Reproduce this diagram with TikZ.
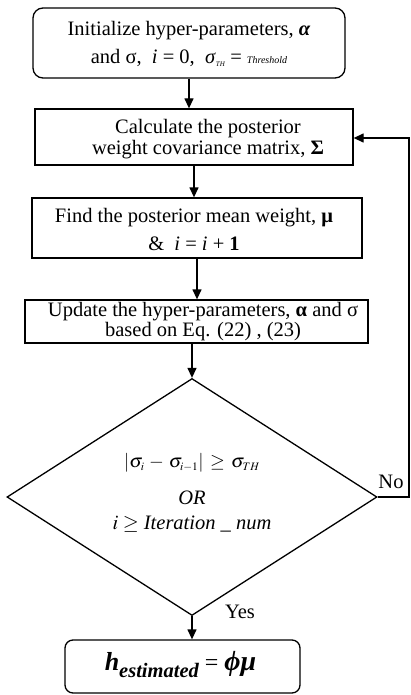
\documentclass[tikz,border=0pt]{standalone}
\usepackage{mathptmx}
\usepackage{fontspec}
\setmainfont{Liberation Serif}
\usetikzlibrary{shapes.geometric,arrows.meta}
\begin{document}
\begin{tikzpicture}[x=1pt,y=-1pt,
  boxst/.style={draw,line width=1.3pt,inner sep=0pt},
  rbox/.style={boxst,rounded corners=10pt},
  arr/.style={line width=1.3pt,-{Triangle[length=10pt,width=9pt]}},
  txt/.style={align=center,inner sep=0pt,font=\fontsize{20.5}{21}\selectfont},
  wide/.style={align=center,inner sep=0pt,font=\fontsize{20.5}{28}\selectfont}]
\useasboundingbox (0,0) rectangle (411,695);
% boxes
\node[rbox,minimum width=312pt,minimum height=70pt] (b1) at (189,43) {};
\node[wide] (t1) at (189,44) {Initialize hyper-parameters, \textbf{\textit{α}}\\
  and σ, \ \textit{i} = 0, \ \textit{σ}\raisebox{-3pt}{\fontsize{7}{7}\selectfont\textit{TH}} = {\fontsize{10}{10}\selectfont\textit{Threshold}}};
\node[boxst,minimum width=318pt,minimum height=56pt] (b2) at (194,137) {};
\node[txt] (t2) at (208,139) {Calculate the posterior\\ weight covariance matrix, \textbf{Σ}};
\node[boxst,minimum width=330pt,minimum height=60pt] (b3) at (197,228) {};
\node[wide] (t3) at (194,229) {Find the posterior mean weight, \textbf{μ}\\ \& \ \textit{i} = \textit{i} + \textbf{1}};
\node[boxst,minimum width=343pt,minimum height=43pt] (b4) at (196.5,321.5) {};
\node[txt,font=\fontsize{20.5}{20}\selectfont] (t4) at (203,322) {Update the hyper-parameters, \textbf{α} and σ\\ based on Eq. (22) , (23)};
% decision
\node[draw,diamond,line width=1.3pt,minimum width=370pt,minimum height=237pt,inner sep=0pt] (d) at (192,497) {};
\node[inner sep=0pt,font=\fontsize{19}{20}\selectfont] (c1) at (192,463) {$\vert\sigma_{\scriptscriptstyle i}\,-\,\sigma_{\scriptscriptstyle i-1}\vert\,\geq\,\sigma_{\scriptscriptstyle TH}$};
\node[txt] (c2) at (192,498) {\textit{OR}};
\node[txt] (c3) at (192,524) {$i\geq$ \textit{Iteration \_ num}};
% final
\node[rbox,rounded corners=8pt,minimum width=235pt,minimum height=53pt] (f) at (182.5,666.5) {};
\node[inner sep=0pt] (tf) at (180.5,665) {{\fontsize{26}{26}\selectfont\bfseries\itshape h}\raisebox{-7pt}{\fontsize{20.5}{21}\selectfont\bfseries\itshape estimated}{\fontsize{24}{26}\selectfont\ = }{\fontsize{28}{30}\selectfont\bfseries\itshape ϕμ}};
% labels
\node[txt] (no) at (391,482) {No};
\node[txt] (yes) at (240,612) {Yes};
% connectors
\coordinate (fb1) at (409,497);
\coordinate (fb2) at (409,138);
\draw[arr] (b1.south) -- (b1.south |- b2.north);
\draw[arr] (b2.south) -- (b2.south |- b3.north);
\draw[arr] (b3.south) -- (b3.south |- b4.north);
\draw[arr] (d.north |- b4.south) -- (d.north);
\draw[arr] (d.south) -- (d.south |- f.north);
\draw[arr] (d.east) -- (fb1) -- (fb2) -- (b2.east |- fb2);
\end{tikzpicture}
\end{document}
